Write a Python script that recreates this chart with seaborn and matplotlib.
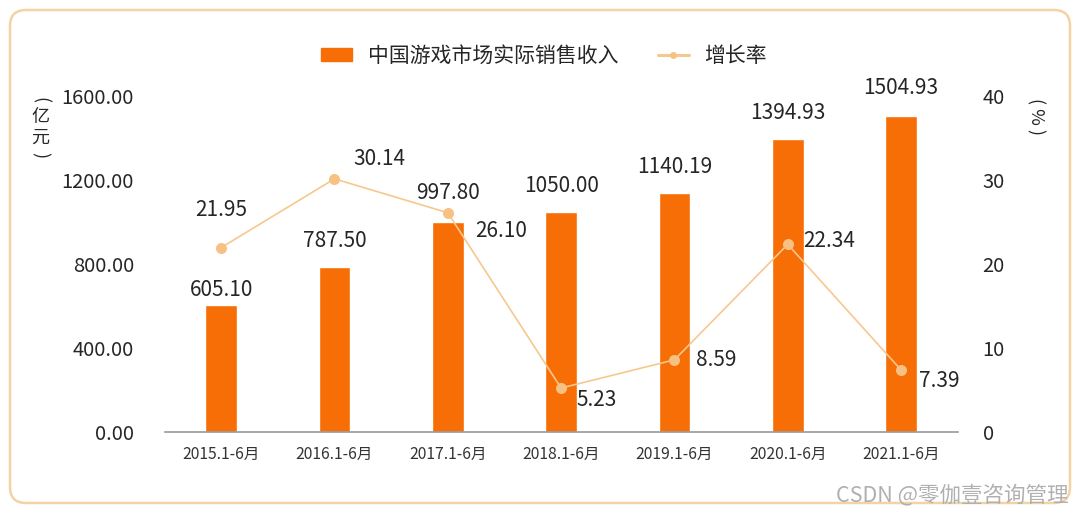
import matplotlib
matplotlib.use("Agg")
import matplotlib.pyplot as plt
import seaborn as sns
import pandas as pd
from matplotlib.patches import Patch, FancyBboxPatch
from matplotlib.lines import Line2D

categories = ["2015.1-6月", "2016.1-6月", "2017.1-6月", "2018.1-6月",
              "2019.1-6月", "2020.1-6月", "2021.1-6月"]
revenue = [605.10, 787.50, 997.80, 1050.00, 1140.19, 1394.93, 1504.93]
growth = [21.95, 30.14, 26.10, 5.23, 8.59, 22.34, 7.39]
left_ticks = [0, 400, 800, 1200, 1600]
right_ticks = [0, 10, 20, 30, 40]

sns.set_theme(style="white")
FONT = ["Noto Sans CJK SC", "DejaVu Sans"]
plt.rcParams["font.family"] = FONT

BAR = "#F76E06"
LINE = "#F7C88E"
MARK = "#F8C184"
TXT = "#262626"

fig = plt.figure(figsize=(10.8, 5.17), dpi=100)
ax = fig.add_axes([164.5 / 1080, 1 - 432 / 517, (957.7 - 164.5) / 1080, 336 / 517])

df = pd.DataFrame({"cat": categories, "rev": revenue, "gr": growth})
sns.barplot(data=df, x="cat", y="rev", color=BAR, saturation=1, width=0.28, ax=ax)
ax.set_ylim(0, 1600)
ax.set_yticks(left_ticks)
ax.set_yticklabels([f"{v:.2f}" for v in left_ticks], fontsize=14.5, color=TXT)
ax.tick_params(axis="y", length=0, pad=22)
ax.tick_params(axis="x", length=0, pad=10, labelsize=11.3, labelcolor="#333333")
ax.set_xlabel("")
ax.set_ylabel("")
for s in ["top", "right", "left"]:
    ax.spines[s].set_visible(False)
ax.spines["bottom"].set_color("#9a9a9a")
ax.spines["bottom"].set_linewidth(1.2)

bar_off = [15, 26, 29, 25, 26, 26, 28]
for i, v in enumerate(revenue):
    ax.annotate(f"{v:.2f}", (i, v), xytext=(0, bar_off[i] * 0.72), textcoords="offset points",
                ha="center", va="center", fontsize=15, color=TXT)

ax2 = ax.twinx()
sns.pointplot(data=df, x="cat", y="gr", color=LINE, markers="o", linewidth=1.2,
              markersize=7, ax=ax2)
for coll in ax2.collections:
    coll.set_facecolor(MARK)
    coll.set_edgecolor(MARK)
for ln in ax2.lines:
    ln.set_markerfacecolor(MARK)
    ln.set_markeredgecolor(MARK)
ax2.set_ylim(0, 40)
ax2.set_yticks(right_ticks)
ax2.set_yticklabels([str(v) for v in right_ticks], fontsize=14.5, color=TXT)
ax2.tick_params(axis="y", length=0, pad=18)
ax2.set_ylabel("")
ax2.set_xlabel("")
for s in ["top", "right", "left", "bottom"]:
    ax2.spines[s].set_visible(False)
ax.set_xlim(-0.5, len(categories) - 0.5)
ax2.set_xlim(-0.5, len(categories) - 0.5)

line_off = [(0, 38), (45, 20), (53, -18), (36, -12), (42, 0), (41, 3), (38, -11)]
for i, v in enumerate(growth):
    dx, dy = line_off[i]
    ax2.annotate(f"{v:.2f}", (i, v), xytext=(dx * 0.72, dy * 0.72), textcoords="offset points",
                 ha="center", va="center", fontsize=15, color=TXT)

# axis unit labels (left: stacked vertical text with rotated brackets)
ux = 40 / 1080
fig.text(ux, 1 - 100 / 517, "(", ha="center", va="center", rotation=270, fontsize=13, color=TXT)
fig.text(ux, 1 - 117 / 517, "亿", ha="center", va="center", fontsize=13, color=TXT)
fig.text(ux, 1 - 138 / 517, "元", ha="center", va="center", fontsize=13, color=TXT)
fig.text(ux, 1 - 155 / 517, ")", ha="center", va="center", rotation=270, fontsize=13, color=TXT)
fig.text(1036 / 1080, 1 - 117 / 517, "( % )", ha="center", va="center", rotation=270,
         fontsize=13, color=TXT)

# legend
handles = [Patch(facecolor=BAR, edgecolor=BAR),
           Line2D([0], [0], color=LINE, lw=2.2, marker="o", markersize=4,
                  markerfacecolor=MARK, markeredgecolor=MARK)]
fig.legend(handles, ["中国游戏市场实际销售收入", "增长率"], loc="center",
           bbox_to_anchor=(544 / 1080, 1 - 56 / 517), ncol=2, frameon=False,
           fontsize=15, handlelength=1.5, handleheight=0.6, columnspacing=1.9,
           handletextpad=0.75, labelcolor=TXT)

# rounded frame (display pixel coordinates)
frame = FancyBboxPatch((10, 14), 1060, 493, boxstyle="round,pad=0,rounding_size=16",
                       transform=None, facecolor="none",
                       edgecolor="#F3D2A4", linewidth=1.8)
fig.patches.append(frame)

# watermark
fig.text(1068 / 1080, 1 - 495 / 517, "CSDN @零伽壹咨询管理", ha="right", va="center",
         fontsize=15.5, color="#B0B0B0")

fig.savefig("out.png", dpi=100)
